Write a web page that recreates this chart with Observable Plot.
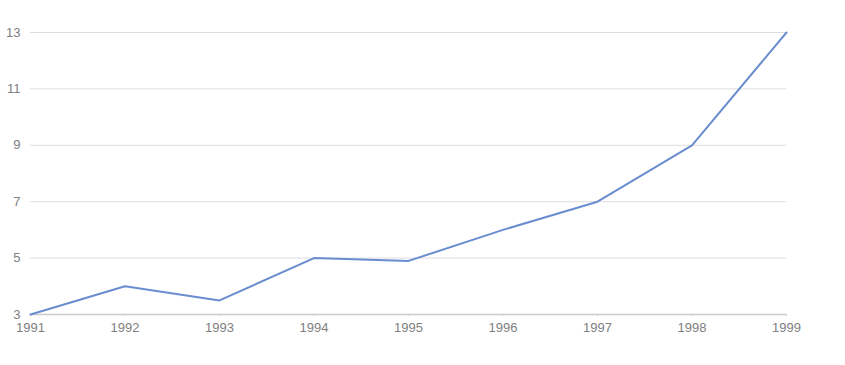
<!DOCTYPE html>
<html>
<head>
<meta charset="utf-8">
<script src="https://cdn.jsdelivr.net/npm/d3@7"></script>
<script src="https://cdn.jsdelivr.net/npm/@observablehq/plot@0.6"></script>
<style>
  html, body { margin: 0; padding: 0; background: #fff; }
  #chart { width: 845px; height: 365px; }
</style>
</head>
<body>
<div id="chart"></div>
<script>
const years = [1991, 1992, 1993, 1994, 1995, 1996, 1997, 1998, 1999];
const values = [3, 4, 3.5, 5, 4.9, 6, 7, 9, 13];
const yTicks = [3, 5, 7, 9, 11, 13];

const data = years.map((y, i) => ({year: y, value: values[i]}));

const chart = Plot.plot({
  width: 845,
  height: 365,
  marginLeft: 30,
  marginRight: 59,
  marginTop: 32,
  marginBottom: 51,
  style: {fontFamily: "Helvetica, Arial, 'Liberation Sans', sans-serif", fontSize: "13px", color: "#808080", background: "#fff"},
  x: {domain: [1991, 1999], ticks: years, tickFormat: "d", label: null},
  y: {domain: [3, 13], ticks: yTicks, label: null},
  marks: [
    Plot.gridY(yTicks.slice(1), {stroke: "#ddd", strokeOpacity: 1}),
    Plot.ruleY([3], {stroke: "#ccc", strokeWidth: 1.5}),
    Plot.axisY(yTicks, {tickSize: 0, tickPadding: 10, fill: "#808080", fontSize: 13, label: null}),
    Plot.axisX(years, {tickSize: 2, tickPadding: 6, stroke: "#ccc", fill: "#808080", fontSize: 13, tickFormat: "d", label: null}),
    Plot.line(data, {x: "year", y: "value", stroke: "#6a8dcf", strokeWidth: 2})
  ]
});
document.getElementById("chart").appendChild(chart);
</script>
</body>
</html>
